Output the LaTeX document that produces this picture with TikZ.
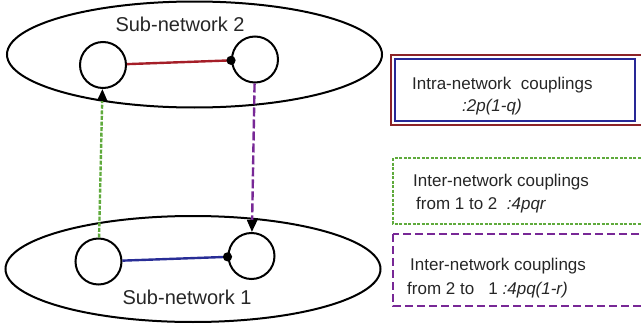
\documentclass[tikz,border=0pt]{standalone}
\usepackage{fontspec}
\setmainfont{Liberation Sans}
\usetikzlibrary{shapes.geometric,arrows.meta}

\definecolor{netred}{RGB}{165,30,40}
\definecolor{netblue}{RGB}{40,45,150}
\definecolor{netgreen}{RGB}{95,170,60}
\definecolor{netpurple}{RGB}{120,40,150}
\definecolor{boxred}{RGB}{140,35,40}
\definecolor{boxblue}{RGB}{40,40,150}

\tikzset{
  subnet/.style={ellipse, draw=black, line width=2pt, inner sep=0pt,
    minimum width=375pt, minimum height=106pt},
  unit/.style={circle, draw=black, line width=2pt, inner sep=0pt, minimum size=46pt},
  netlabel/.style={font=\fontsize{20}{24}\selectfont, text=black!85, inner sep=0pt},
  intra/.style={line width=2.4pt, -{Circle[length=9pt, black]}, shorten >=-4.5pt},
  inter/.style={line width=2.4pt, -{Triangle[length=12pt, width=10pt, black]}},
  legendtext/.style={font=\fontsize{17}{20}\selectfont, text=black!85, inner sep=0pt, anchor=base west},
  legendframe/.style={line width=1.6pt}
}

\begin{document}
\begin{tikzpicture}[x=1pt,y=-1pt]
  \clip (0,0) rectangle (641,324);
  \useasboundingbox (0,0) rectangle (641,324);

  % the two sub-networks
  \node[subnet] (sn2) at (194.5,54.5) {};
  \node[subnet] (sn1) at (193,269) {};
  \node[netlabel] (lab2) at (180,24.5) {Sub-network 2};
  \node[netlabel] (lab1) at (187,297) {Sub-network 1};

  % nodes of each sub-network
  \node[unit] (a2) at (103,65) {};
  \node[unit] (b2) at (255,59.5) {};
  \node[unit] (a1) at (98.5,261.5) {};
  \node[unit] (b1) at (251.5,256) {};

  % intra-network couplings
  \draw[intra, draw=netred] (a2) -- (b2);
  \draw[intra, draw=netblue] (a1) -- (b1);

  % inter-network couplings
  \draw[inter, draw=netgreen, dash pattern=on 4pt off 1.6pt] (a1) -- (a2);
  \draw[inter, draw=netpurple, dash pattern=on 9pt off 3pt] (b2) -- (b1);

  % legend: intra-network couplings
  \draw[line width=2pt, boxred] (391,55) rectangle (660,125);
  \draw[line width=2pt, boxblue] (395,59) rectangle (634.5,121);
  \node[legendtext] (t1a) at (412,89) {Intra-network\ \ couplings};
  \node[legendtext] (t1b) at (462,111) {\itshape :2p(1-q)};

  % legend: inter-network couplings from 1 to 2
  \draw[legendframe, netgreen, dash pattern=on 3pt off 1.5pt] (393,158) rectangle (660,224);
  \node[legendtext] (t2a) at (413,186) {Inter-network couplings};
  \node[legendtext] (t2b) at (416,209) {from 1 to 2\ \ \textit{:4pqr}};

  % legend: inter-network couplings from 2 to 1
  \draw[legendframe, netpurple, dash pattern=on 8pt off 4pt] (393,234) rectangle (660,306);
  \node[legendtext] (t3a) at (410,270) {Inter-network couplings};
  \node[legendtext] (t3b) at (407,294) {from 2 to \ \ 1 \textit{:4pq(1-r)}};
\end{tikzpicture}
\end{document}
